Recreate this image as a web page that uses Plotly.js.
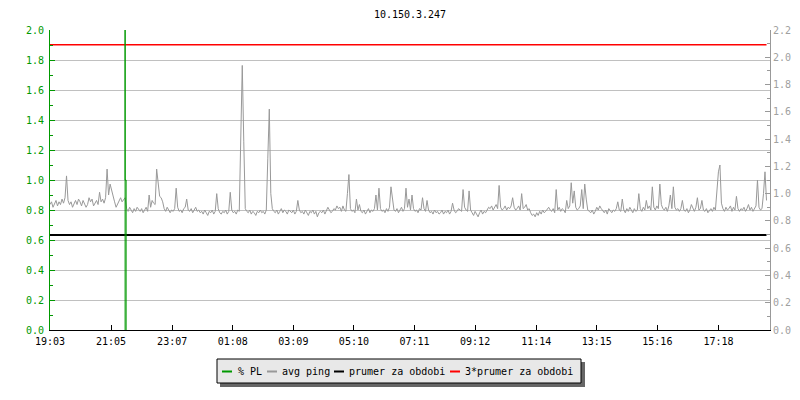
<!DOCTYPE html>
<html>
<head>
<meta charset="utf-8">
<script src="https://cdn.plot.ly/plotly-3.0.1.min.js"></script>
<style>
html,body{margin:0;padding:0;background:#fff;}
#chart{width:800px;height:400px;}
</style>
</head>
<body>
<div id="chart"></div>
<script>
// ---- data ----
const chartTitle = '10.150.3.247';
const startTime = '2024-01-01 19:03';
const stepMinutes = 3;              // sampling step of the avg ping series
const rangeEndTime = '2024-01-02 19:01';
const tickLabels = ['19:03','21:05','23:07','01:08','03:09','05:10','07:11','09:12','11:14','13:15','15:16','17:18'];

// avg ping (right axis), one row per hour (20 samples)
const avgPing = [
  0.92, 0.94, 0.90, 0.93, 0.95, 0.91, 0.94, 0.92, 0.96, 0.93, 0.97, 1.13, 0.95, 0.92, 0.94, 0.90, 0.93, 0.95, 0.92, 0.96,
  0.94, 0.91, 0.95, 0.93, 0.90, 0.92, 0.97, 0.94, 0.96, 0.91, 0.93, 0.95, 0.92, 1.01, 0.94, 0.96, 0.93, 0.97, 1.18, 0.99,
  1.07, 1.02, 0.98, 0.94, 0.90, 0.92, 0.95, 0.97, 0.94, 0.96, 0.97, 0.89, 0.87, 0.90, 0.88, 0.86, 0.89, 0.87, 0.90, 0.88,
  0.87, 0.89, 0.86, 0.88, 0.90, 0.87, 0.99, 0.90, 0.95, 0.93, 0.92, 1.18, 1.07, 0.98, 0.97, 0.94, 0.89, 0.87, 0.90, 0.88,
  0.86, 0.88, 0.87, 0.89, 1.04, 0.90, 0.87, 0.88, 0.86, 0.89, 0.90, 0.96, 0.88, 0.87, 0.89, 0.86, 0.88, 0.90, 0.87, 0.88,
  0.86, 0.87, 0.85, 0.88, 0.86, 0.84, 0.87, 0.86, 0.88, 0.85, 0.87, 1.00, 0.89, 0.86, 0.85, 0.87, 0.86, 0.88, 0.85, 0.87,
  1.01, 0.88, 0.86, 0.87, 0.85, 0.88, 0.87, 1.40, 1.94, 1.38, 0.89, 0.87, 0.86, 0.88, 0.85, 0.87, 0.86, 0.84, 0.87, 0.86,
  0.88, 0.86, 0.87, 0.85, 0.88, 1.26, 1.62, 1.00, 0.89, 0.87, 0.86, 0.88, 0.85, 0.87, 0.89, 0.86, 0.88, 0.87, 0.85, 0.88,
  0.87, 0.86, 0.88, 0.85, 0.87, 0.95, 0.88, 0.86, 0.87, 0.85, 0.88, 0.86, 0.84, 0.87, 0.86, 0.88, 0.85, 0.87, 0.83, 0.86,
  0.87, 0.86, 0.88, 0.85, 0.87, 0.90, 0.88, 0.86, 0.87, 0.89, 0.88, 0.91, 0.89, 0.90, 0.87, 0.91, 0.88, 0.87, 1.00, 1.14,
  0.89, 0.87, 0.88, 0.86, 0.96, 0.88, 0.92, 0.87, 0.86, 0.88, 0.85, 0.87, 0.89, 0.86, 0.88, 0.87, 0.89, 0.99, 0.88, 1.04,
  0.89, 0.87, 0.88, 0.86, 0.89, 0.87, 0.90, 1.05, 0.96, 0.88, 0.87, 0.89, 0.86, 0.88, 0.90, 0.87, 0.89, 1.04, 0.90, 0.96,
  0.88, 0.99, 0.89, 0.87, 0.88, 0.86, 0.89, 0.88, 0.97, 0.89, 0.87, 0.95, 0.88, 0.86, 0.87, 0.85, 0.88, 0.86, 0.87, 0.85,
  0.86, 0.88, 0.85, 0.87, 0.86, 0.88, 0.85, 0.87, 0.93, 0.88, 0.86, 0.87, 0.89, 0.88, 0.87, 1.03, 0.90, 0.88, 0.87, 1.02,
  0.88, 0.86, 0.84, 0.87, 0.85, 0.83, 0.86, 0.88, 0.85, 0.87, 0.86, 0.88, 0.90, 0.89, 0.91, 0.88, 0.90, 0.92, 0.89, 1.06,
  0.90, 0.88, 0.89, 0.91, 0.88, 0.90, 0.89, 0.91, 0.97, 0.90, 0.88, 0.89, 0.91, 0.88, 1.00, 0.89, 0.90, 0.92, 0.88, 0.89,
  0.86, 0.84, 0.85, 0.83, 0.86, 0.84, 0.87, 0.85, 0.88, 0.86, 0.87, 0.89, 0.90, 0.88, 0.87, 0.89, 0.86, 1.03, 0.88, 0.90,
  0.87, 0.89, 0.88, 0.86, 0.95, 0.89, 0.91, 1.08, 0.93, 1.02, 0.90, 0.88, 0.89, 0.91, 1.03, 0.89, 1.07, 0.96, 0.88, 0.87,
  0.86, 0.88, 0.85, 0.87, 0.90, 0.88, 0.91, 0.89, 0.87, 0.86, 0.88, 0.85, 0.89, 0.87, 0.86, 0.88, 0.87, 0.89, 0.94, 0.88,
  0.87, 0.96, 0.88, 0.86, 0.89, 0.87, 0.90, 0.88, 0.86, 0.89, 0.87, 0.88, 1.00, 0.89, 0.87, 0.90, 0.88, 0.95, 0.89, 0.91,
  0.88, 1.05, 0.90, 0.88, 0.91, 0.89, 1.07, 0.92, 0.89, 0.88, 0.90, 0.87, 0.91, 0.99, 0.89, 1.05, 0.90, 0.88, 0.89, 0.87,
  0.89, 0.95, 0.88, 0.87, 0.89, 0.86, 0.88, 0.92, 0.89, 0.87, 0.90, 0.97, 0.88, 0.89, 0.95, 0.88, 0.87, 0.89, 0.86, 0.88,
  0.89, 0.87, 0.90, 0.88, 1.00, 1.16, 1.21, 0.93, 0.89, 0.87, 0.90, 0.88, 0.89, 0.91, 0.87, 0.90, 0.88, 0.98, 0.89, 0.87,
  0.89, 0.88, 0.90, 0.87, 0.89, 0.92, 0.88, 0.90, 0.87, 0.89, 0.91, 1.10, 0.90, 0.88, 0.89, 1.00, 1.16, 0.95
];

// % PL (left axis)
const plTimes  = ['2024-01-01 21:33','2024-01-01 21:33','2024-01-01 21:33','2024-01-01 21:35','2024-01-01 21:35'];
const plValues = [0, 100, 1, 1, 0];

// period average and 3x period average (right axis)
const prumer = 0.697;
const prumer3 = 2.091;

const legendLabels = ['% PL', 'avg ping', 'prumer za obdobi', '3*prumer za obdobi'];
const colors = {pl:'#009900', ping:'#999999', avg:'#000000', avg3:'#ff0000'};

// ---- helpers ----
function toMs(s){ const [d,t]=s.split(' '); const [Y,M,D]=d.split('-').map(Number); const [h,m]=t.split(':').map(Number); return Date.UTC(Y,M-1,D,h,m); }
function fmt(ms){ return new Date(ms).toISOString().slice(0,19).replace('T',' '); }

const t0 = toMs(startTime);
const pingTimes = avgPing.map((_, i) => fmt(t0 + i*stepMinutes*60000));
const firstT = pingTimes[0], lastT = pingTimes[pingTimes.length-1];

// tick values from tick labels (labels before 19:03 belong to the next day)
const tickVals = tickLabels.map(l => {
  const [h,m] = l.split(':').map(Number);
  let ms = Date.UTC(2024,0,1,h,m);
  if (ms < t0) ms += 86400000;
  return fmt(ms);
});

const mono = 'DejaVu Sans Mono, monospace';

const traces = [
  {x: pingTimes, y: avgPing, type:'scatter', mode:'lines', yaxis:'y', line:{color:colors.ping, width:1}, showlegend:false, hoverinfo:'skip'},
  {x: [firstT, lastT], y: [prumer, prumer], type:'scatter', mode:'lines', yaxis:'y', line:{color:colors.avg, width:2}, showlegend:false, hoverinfo:'skip'},
  {x: [firstT, lastT], y: [prumer3, prumer3], type:'scatter', mode:'lines', yaxis:'y', line:{color:colors.avg3, width:1.5}, showlegend:false, hoverinfo:'skip'},
  {x: plTimes, y: plValues, type:'scatter', mode:'lines', yaxis:'y2', line:{color:colors.pl, width:1}, showlegend:false, hoverinfo:'skip'}
];

// ---- custom legend (paper coords from pixel positions) ----
const L = 50, T = 30, W = 720, H = 300;
const px = v => (v - L) / W;
const py = v => (T + H - v) / H;
const legY = 371.5;
const symStarts = [222, 267, 334, 450];
const textStarts = [236.5, 280.5, 348, 464];
const legColors = [colors.pl, colors.ping, colors.avg, colors.avg3];
const shapes = [
  {type:'rect', xref:'paper', yref:'paper', x0:px(220), x1:px(585), y0:py(362), y1:py(387), fillcolor:'#666666', line:{width:0}, layer:'above'},
  {type:'rect', xref:'paper', yref:'paper', x0:px(217), x1:px(581), y0:py(359), y1:py(383), fillcolor:'#e8e8e8', line:{color:'#000', width:1}, layer:'above'}
];
const annotations = [];
legendLabels.forEach((lab, k) => {
  shapes.push({type:'line', xref:'paper', yref:'paper', x0:px(symStarts[k]), x1:px(symStarts[k]+10), y0:py(legY), y1:py(legY), line:{color:legColors[k], width:2}, layer:'above'});
  annotations.push({xref:'paper', yref:'paper', x:px(textStarts[k]), y:py(legY), text:lab, showarrow:false, xanchor:'left', yanchor:'middle', font:{family:mono, size:10, color:'#000'}, xshift:-1});
});

const layout = {
  width: 800, height: 400,
  margin: {l: 50, r: 30, t: 30, b: 70, pad: 0},
  paper_bgcolor: '#ffffff', plot_bgcolor: '#ffffff',
  showlegend: false,
  title: {text: chartTitle, font:{family:mono, size:10, color:'#000'}, x:0.5125, xanchor:'center', xref:'container', y:1-14/400, yanchor:'middle', yref:'container'},
  xaxis: {
    type:'date', range:[startTime, rangeEndTime], tickvals: tickVals, ticktext: tickLabels,
    ticks:'inside', ticklen:5, tickcolor:'#000', showline:true, linecolor:'#000', linewidth:1,
    showgrid:false, zeroline:false, tickfont:{family:mono, size:10, color:'#000'}, ticklabelstandoff:2, fixedrange:true
  },
  yaxis: {
    side:'right', range:[0, 2.2], dtick:0.2, tick0:0, tickformat:'.1f',
    ticks:'inside', ticklen:5, tickcolor:'#999999', showline:true, linecolor:'#999999', linewidth:1,
    showgrid:false, zeroline:false, tickfont:{family:mono, size:10, color:'#a0a0a0'},
    minor:{dtick:0.1, ticks:'inside', ticklen:3, tickcolor:'#999999', showgrid:false}, fixedrange:true
  },
  yaxis2: {
    side:'left', overlaying:'y', range:[0, 2.0], dtick:0.2, tick0:0, tickformat:'.1f',
    ticks:'inside', ticklen:5, tickcolor:colors.pl, showline:true, linecolor:colors.pl, linewidth:1,
    showgrid:true, gridcolor:'#c0c0c0', gridwidth:1, zeroline:false,
    tickfont:{family:mono, size:10, color:colors.pl}, ticklabelstandoff:3,
    minor:{dtick:0.1, ticks:'inside', ticklen:3, tickcolor:colors.pl, showgrid:false}, fixedrange:true
  },
  shapes: shapes,
  annotations: annotations
};

Plotly.newPlot('chart', traces, layout, {staticPlot:true, displayModeBar:false});
</script>
</body>
</html>
